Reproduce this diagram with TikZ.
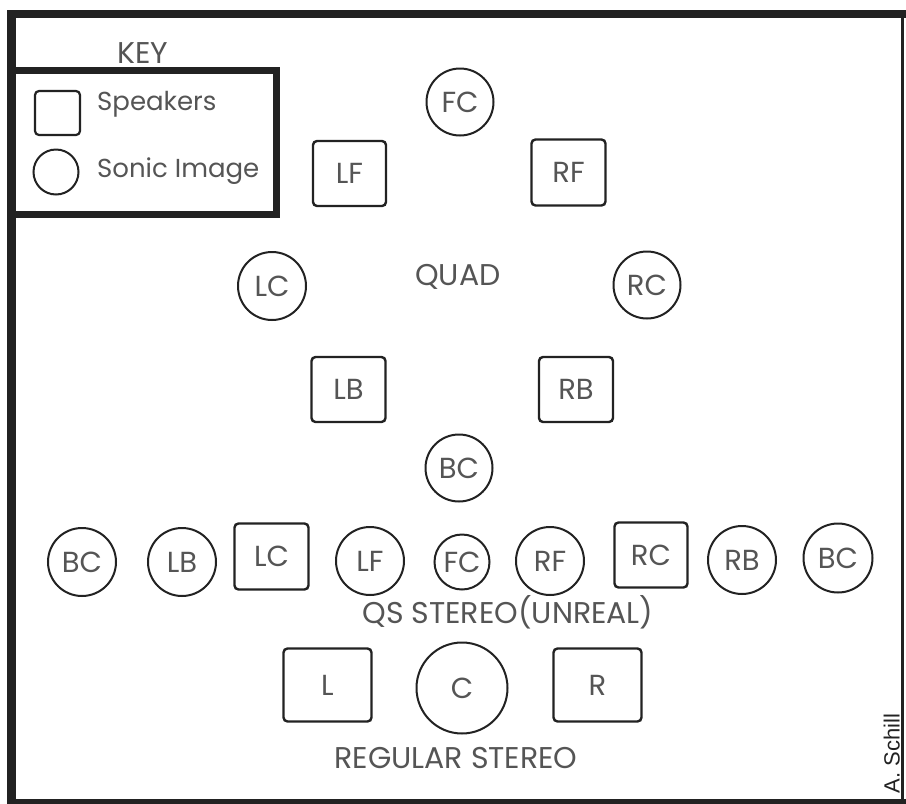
\documentclass[tikz,border=0pt]{standalone}
\usepackage{fontspec}
\setmainfont{Poppins}
\newfontfamily\sigfont{Liberation Sans}
\definecolor{ink}{HTML}{222222}
\definecolor{txt}{HTML}{555555}
\newcommand\labfont{\fontsize{29}{29}\selectfont}
\newcommand\keyfont{\fontsize{26}{26}\selectfont}
\newcommand\capfont{\fontsize{30}{30}\selectfont}
\begin{document}
\begin{tikzpicture}[x=1pt,y=-1pt,
  spk/.style={draw=ink, line width=2.4pt, rounded corners=4pt, inner sep=0pt, text=txt, font=\labfont},
  img/.style={draw=ink, circle, line width=2pt, inner sep=0pt, text=txt, font=\labfont},
  lbl/.style={text=txt, inner sep=0pt},
  frameline/.style={draw=ink, line cap=butt}]
% canvas
\fill[white] (0,0) rectangle (906,804);
\useasboundingbox (0,0) rectangle (906,804);
% outer frame
\draw[frameline, line width=8pt] (7,14) -- (906,14);
\draw[frameline, line width=9pt] (11.5,10) -- (11.5,804);
\draw[frameline, line width=3pt] (902.5,10) -- (902.5,804);
\draw[frameline, line width=5pt] (7,801.5) -- (906,801.5);
% key
\node[lbl, font=\capfont, anchor=base] (keytitle) at (143,63) {KEY};
\draw[frameline, line width=7pt] (12,70) -- (276.5,70) -- (276.5,214) -- (12,214);
\node[spk, line width=2.2pt, minimum width=45pt, minimum height=44pt] (keyspk) at (57.5,113) {};
\node[lbl, font=\keyfont, anchor=base west] (keyspktxt) at (97,110) {Speakers};
\node[img, minimum size=45pt] (keyimg) at (56,172) {};
\node[lbl, font=\keyfont, anchor=base west] (keyimgtxt) at (97,177) {Sonic Image};
% quad
\node[img, minimum size=67pt] (qfc) at (460,102) {FC};
\node[spk, minimum width=73pt, minimum height=65pt] (qlf) at (349.5,173.5) {LF};
\node[spk, minimum width=74pt, minimum height=66pt] (qrf) at (568.5,172.5) {RF};
\node[img, minimum size=68pt] (qlc) at (272,286) {LC};
\node[img, minimum size=67pt] (qrc) at (647,285) {RC};
\node[lbl, font=\capfont, anchor=base] (quad) at (458,285) {QUAD};
\node[spk, minimum width=74pt, minimum height=65pt] (qlb) at (348.5,389.5) {LB};
\node[spk, minimum width=74pt, minimum height=65pt] (qrb) at (576,389.5) {RB};
\node[img, minimum size=67pt] (qbc) at (459,468) {BC};
% QS stereo
\node[img, minimum size=68pt] (sbc1) at (82,562) {BC};
\node[img, minimum size=68pt] (slb) at (182,562) {LB};
\node[spk, minimum width=74pt, minimum height=66pt] (slc) at (271.5,556.5) {LC};
\node[img, minimum size=68pt] (slf) at (370,561) {LF};
\node[img, minimum size=55pt] (sfc) at (462,562) {FC};
\node[img, minimum size=68pt] (srf) at (550,561) {RF};
\node[spk, minimum width=73pt, minimum height=65pt] (src) at (651,555) {RC};
\node[img, minimum size=68pt] (srb) at (742,560) {RB};
\node[img, minimum size=69pt] (sbc2) at (838,558) {BC};
\node[lbl, font=\capfont, anchor=base] (qs) at (508,623) {QS STEREO(UNREAL)};
% regular stereo
\node[spk, minimum width=88pt, minimum height=73pt] (rl) at (327.5,685) {L};
\node[img, minimum size=91pt] (rc) at (462,688) {C};
\node[spk, minimum width=88pt, minimum height=73pt] (rr) at (597.5,685) {R};
\node[lbl, font=\capfont, anchor=base] (reg) at (456,768) {REGULAR STEREO};
% signature
\node[text=ink, inner sep=0pt, rotate=90, anchor=base, font=\sigfont\fontsize{22}{22}\selectfont] (sig) at (899.5,753.5) {A. Schill};
\end{tikzpicture}
\end{document}
